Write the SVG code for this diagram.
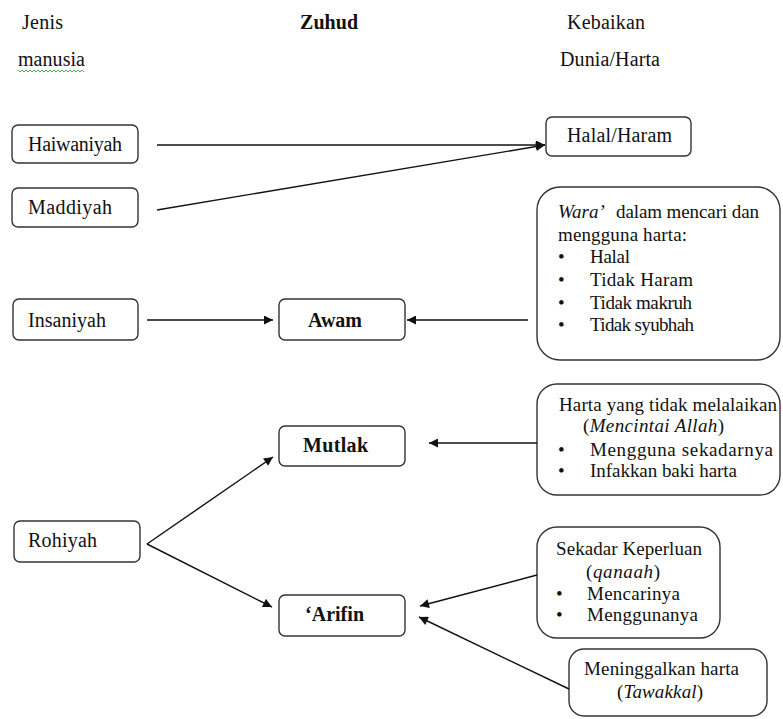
<svg xmlns="http://www.w3.org/2000/svg" width="783" height="719" viewBox="0 0 783 719">
<style>
text{font-family:"Liberation Serif","Tinos","Times New Roman","DejaVu Serif",serif;font-size:20px;fill:#111}
.r{font-size:19px}
.b{font-weight:bold}
.i{font-style:italic}
.box{fill:#fff;stroke:#333;stroke-width:1.4}
.c{stroke:#111;stroke-width:1.4;fill:none}
</style>
<defs>
<marker id="ah" viewBox="0 0 10 10" refX="10" refY="5" markerWidth="11" markerHeight="9" markerUnits="userSpaceOnUse" orient="auto">
<path d="M0,0 L10,5 L0,10 z" fill="#111"/>
</marker>
</defs>
<rect width="783" height="719" fill="#fff"/>
<g id="headers">
<text x="22" y="29" textLength="41">Jenis</text>
<text x="18" y="66" textLength="67">manusia</text>
<path d="M18,70 l2,2 l2,-2 l2,2 l2,-2 l2,2 l2,-2 l2,2 l2,-2 l2,2 l2,-2 l2,2 l2,-2 l2,2 l2,-2 l2,2 l2,-2 l2,2 l2,-2 l2,2 l2,-2 l2,2 l2,-2 l2,2 l2,-2 l2,2 l2,-2 l2,2 l2,-2 l2,2 l2,-2 l2,2 l2,-2 l2,2" fill="none" stroke="#3a3" stroke-width="0.9"/>
<text x="300" y="29" class="b" textLength="58">Zuhud</text>
<text x="567" y="29" textLength="78">Kebaikan</text>
<text x="560" y="66" textLength="100">Dunia/Harta</text>
</g>
<g id="haiwaniyah"><rect class="box" x="12" y="125" width="126" height="38" rx="6"/><text x="28" y="151" textLength="94">Haiwaniyah</text></g>
<g id="maddiyah"><rect class="box" x="12" y="188" width="126" height="39" rx="6"/><text x="28" y="214" textLength="84">Maddiyah</text></g>
<g id="halalharam"><rect class="box" x="546" y="117" width="145" height="39" rx="6"/><text x="567" y="142" textLength="105">Halal/Haram</text></g>
<g id="wara"><rect class="box" x="537" y="187" width="243" height="173" rx="23"/>
<text x="558" y="218" class="r i">Wara’</text>
<text x="616" y="218" class="r" textLength="143">dalam mencari dan</text>
<text x="558" y="241" class="r" textLength="129">mengguna harta:</text>
<text x="558" y="263" class="r">•</text><text x="590" y="263" class="r" textLength="40">Halal</text>
<text x="558" y="286" class="r">•</text><text x="590" y="286" class="r" textLength="103">Tidak Haram</text>
<text x="558" y="309" class="r">•</text><text x="590" y="309" class="r" textLength="102">Tidak makruh</text>
<text x="558" y="331" class="r">•</text><text x="590" y="331" class="r" textLength="104">Tidak syubhah</text>
</g>
<g id="insaniyah"><rect class="box" x="13" y="299" width="125" height="41" rx="6"/><text x="28" y="327" textLength="78">Insaniyah</text></g>
<g id="awam"><rect class="box" x="279" y="299" width="126" height="41" rx="6"/><text x="308" y="327" class="b" textLength="54">Awam</text></g>
<g id="harta"><rect class="box" x="537" y="384" width="243" height="111" rx="20"/>
<text x="559" y="411" class="r" textLength="218">Harta yang tidak melalaikan</text>
<text x="583" y="432" class="r" textLength="141">(<tspan class="i">Mencintai Allah</tspan>)</text>
<text x="558" y="456" class="r">•</text><text x="590" y="456" class="r" textLength="183">Mengguna sekadarnya</text>
<text x="558" y="477" class="r">•</text><text x="590" y="477" class="r" textLength="147">Infakkan baki harta</text>
</g>
<g id="mutlak"><rect class="box" x="279" y="426" width="126" height="40" rx="6"/><text x="303" y="452" class="b" textLength="65">Mutlak</text></g>
<g id="rohiyah"><rect class="box" x="14" y="521" width="126" height="41" rx="6"/><text x="28" y="547" textLength="69">Rohiyah</text></g>
<g id="arifin"><rect class="box" x="279" y="595" width="126" height="41" rx="6"/><text x="305" y="621" class="b" textLength="59">‘Arifin</text></g>
<g id="sekadar"><rect class="box" x="537" y="527" width="183" height="111" rx="20"/>
<text x="556" y="555" class="r" textLength="146">Sekadar Keperluan</text>
<text x="586" y="578" class="r" textLength="74">(<tspan class="i">qanaah</tspan>)</text>
<text x="556" y="600" class="r">•</text><text x="587" y="600" class="r" textLength="93">Mencarinya</text>
<text x="556" y="621" class="r">•</text><text x="587" y="621" class="r" textLength="111">Menggunanya</text>
</g>
<g id="meninggalkan"><rect class="box" x="569" y="649" width="198" height="67" rx="15"/>
<text x="584" y="675" class="r" textLength="155">Meninggalkan harta</text>
<text x="617" y="698" class="r" textLength="86">(<tspan class="i">Tawakkal</tspan>)</text>
</g>
<g id="connectors">
<line class="c" x1="157" y1="145" x2="545" y2="145" marker-end="url(#ah)"/>
<line class="c" x1="157" y1="210" x2="545" y2="145" marker-end="url(#ah)"/>
<line class="c" x1="147" y1="320" x2="273" y2="320" marker-end="url(#ah)"/>
<line class="c" x1="528" y1="320" x2="407" y2="320" marker-end="url(#ah)"/>
<line class="c" x1="537" y1="443" x2="429" y2="443" marker-end="url(#ah)"/>
<line class="c" x1="147" y1="544" x2="272" y2="607" marker-end="url(#ah)"/>
<line class="c" x1="147" y1="544" x2="273" y2="457" marker-end="url(#ah)"/>
<line class="c" x1="537" y1="575" x2="420" y2="606" marker-end="url(#ah)"/>
<line class="c" x1="569" y1="689" x2="419" y2="617" marker-end="url(#ah)"/>
</g>
</svg>
